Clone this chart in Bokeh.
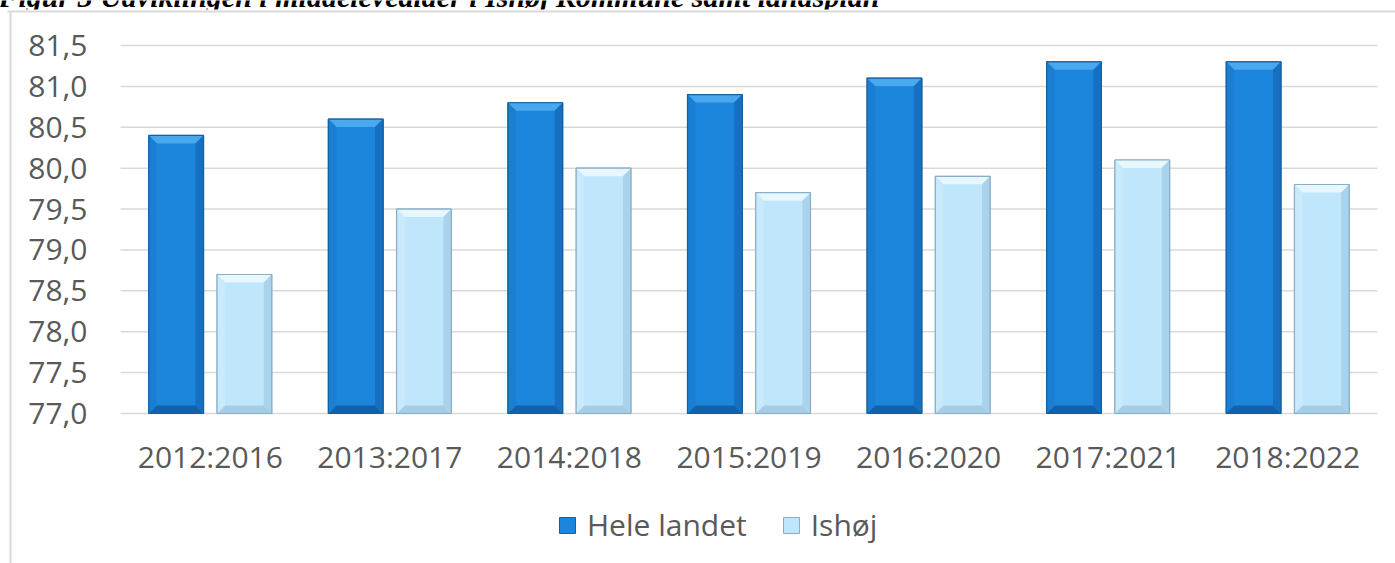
import numpy as np
from bokeh.plotting import figure
from bokeh.models import Range1d, Legend, LegendItem, Label, ColumnDataSource
from bokeh.core.properties import value
from bokeh.embed import file_html
from bokeh.resources import INLINE

# ---------------- data ----------------
periods = ["2012:2016", "2013:2017", "2014:2018", "2015:2019",
           "2016:2020", "2017:2021", "2018:2022"]
hele_landet = [80.4, 80.6, 80.8, 80.9, 81.1, 81.3, 81.3]
ishoj = [78.7, 79.5, 80.0, 79.7, 79.9, 80.1, 79.8]
series_names = ["Hele landet", "Ishøj"]
y_ticks = [77.0, 77.5, 78.0, 78.5, 79.0, 79.5, 80.0, 80.5, 81.0, 81.5]
y_tick_labels = ["77,0", "77,5", "78,0", "78,5", "79,0", "79,5",
                 "80,0", "80,5", "81,0", "81,5"]
title_text = "Figur 3 Udviklingen i middelevealder i Ishøj Kommune samt landsplan"

# ---------------- layout (pixels) ----------------
W, H = 1395, 563
PLOT_L, PLOT_R, PLOT_T, PLOT_B = 120, 1377, 45, 413
Y_LABEL_GAP = 33          # gap between y labels and plot area
X_LABEL_Y = 456           # centre line of category labels
LEGEND_X, LEGEND_BOTTOM = 557, 545
BOX_TOP, BOX_LEFT = 11, 10
OFF, BW = 0.19, 0.305
BEVEL_PX = 8
FONT = "Open Sans"
FSIZE = "30px"
GREY = "#595959"
GRID = "#d9d9d9"

n = len(periods)
y_min, y_max = y_ticks[0], y_ticks[-1]
px_x = (PLOT_R - PLOT_L) / n                 # pixels per category
px_y = (PLOT_B - PLOT_T) / (y_max - y_min)   # pixels per unit
x0 = -PLOT_L / px_x
x1 = n + (W - PLOT_R) / px_x
y1 = y_max + PLOT_T / px_y
y0 = y_min - (H - PLOT_B) / px_y
bx = BEVEL_PX / px_x
by = BEVEL_PX / px_y

def xd(px):
    return x0 + px / px_x

def yd(py):
    return y1 - py / px_y

centers = np.arange(n) + 0.5

p = figure(x_range=Range1d(x0, x1), y_range=Range1d(y0, y1),
           width=W, height=H, output_backend="svg", toolbar_location=None,
           title=None, x_axis_type=None, y_axis_type=None,
           min_border=0, min_border_left=0, min_border_right=0,
           min_border_top=0, min_border_bottom=0)
p.xgrid.visible = False
p.ygrid.visible = False
p.border_fill_color = "white"
p.background_fill_color = None
p.outline_line_color = None

# title (cut off by the chart box, as in the source)
p.add_layout(Label(x=-2, y=H + 4, x_units="screen", y_units="screen",
                   text=title_text, text_font="Liberation Serif",
                   text_font_style="bold italic", text_font_size="30px",
                   text_color="black", text_baseline="alphabetic",
                   level="underlay"))

# chart box (white area + light grey frame lines)
p.quad(left=[xd(0)], right=[xd(W)], top=[yd(BOX_TOP - 2)], bottom=[y0],
       fill_color="white", line_color=None)
p.segment(x0=[xd(7), xd(BOX_LEFT)], x1=[xd(W), xd(BOX_LEFT)],
          y0=[yd(BOX_TOP), yd(BOX_TOP)], y1=[yd(BOX_TOP), y0],
          line_color=GRID, line_width=2)

# horizontal gridlines
p.segment(x0=[xd(PLOT_L)] * len(y_ticks), x1=[xd(PLOT_R)] * len(y_ticks),
          y0=y_ticks, y1=y_ticks, line_color=GRID, line_width=1.5)

def bevel_bars(xc, vals, face, edge, top_c, bot_c, left_c, right_c):
    xc = np.asarray(xc)
    v = np.asarray(vals, dtype=float)
    l, r = xc - BW / 2, xc + BW / 2
    li, ri = l + bx, r - bx
    b, bi = np.full_like(v, y_min), np.full_like(v, y_min + by)
    ti = v - by
    main = p.vbar(x=xc, top=v, bottom=y_min, width=BW, fill_color=face,
                  line_color=None)
    def trap(xs, ys, color):
        p.patches(xs=[list(a) for a in np.stack(xs, axis=1)],
                  ys=[list(a) for a in np.stack(ys, axis=1)],
                  fill_color=color, line_color=None)
    trap([l, r, ri, li], [v, v, ti, ti], top_c)
    trap([l, r, ri, li], [b, b, bi, bi], bot_c)
    trap([l, li, li, l], [b, bi, ti, v], left_c)
    trap([r, ri, ri, r], [b, bi, ti, v], right_c)
    p.vbar(x=xc, top=v, bottom=y_min, width=BW, fill_color=None,
           line_color=edge, line_width=1.2)
    return main

r_hele = bevel_bars(centers - OFF, hele_landet, "#1b86dc", "#14609f",
                    "#4aa8ee", "#1561a8", "#1a7fd2", "#176fbf")
r_ish = bevel_bars(centers + OFF, ishoj, "#c0e6fb", "#8aaec6",
                   "#e8f7fe", "#a7cde6", "#c9eafc", "#a9d2ec")
r_hele.glyph.line_color = "#14609f"
r_ish.glyph.line_color = "#8aaec6"

# y tick labels
p.text(x=[xd(PLOT_L - Y_LABEL_GAP)] * len(y_ticks), y=y_ticks, text=y_tick_labels,
       text_align="right", text_baseline="middle", text_font=value(FONT),
       text_font_size=FSIZE, text_color=GREY)

# category labels
p.text(x=centers, y=[yd(X_LABEL_Y)] * n, text=periods,
       text_align="center", text_baseline="middle", text_font=value(FONT),
       text_font_size=FSIZE, text_color=GREY)

# legend
legend = Legend(items=[LegendItem(label=series_names[0], renderers=[r_hele]),
                       LegendItem(label=series_names[1], renderers=[r_ish])],
                location=(LEGEND_X, H - LEGEND_BOTTOM), orientation="horizontal",
                glyph_width=20, glyph_height=20, label_standoff=10, spacing=34,
                padding=0, margin=0, border_line_color=None,
                background_fill_alpha=0,
                label_text_font=FONT, label_text_font_size=FSIZE,
                label_text_color=GREY)
p.add_layout(legend)

open("out.html", "w").write(file_html(p, INLINE))
